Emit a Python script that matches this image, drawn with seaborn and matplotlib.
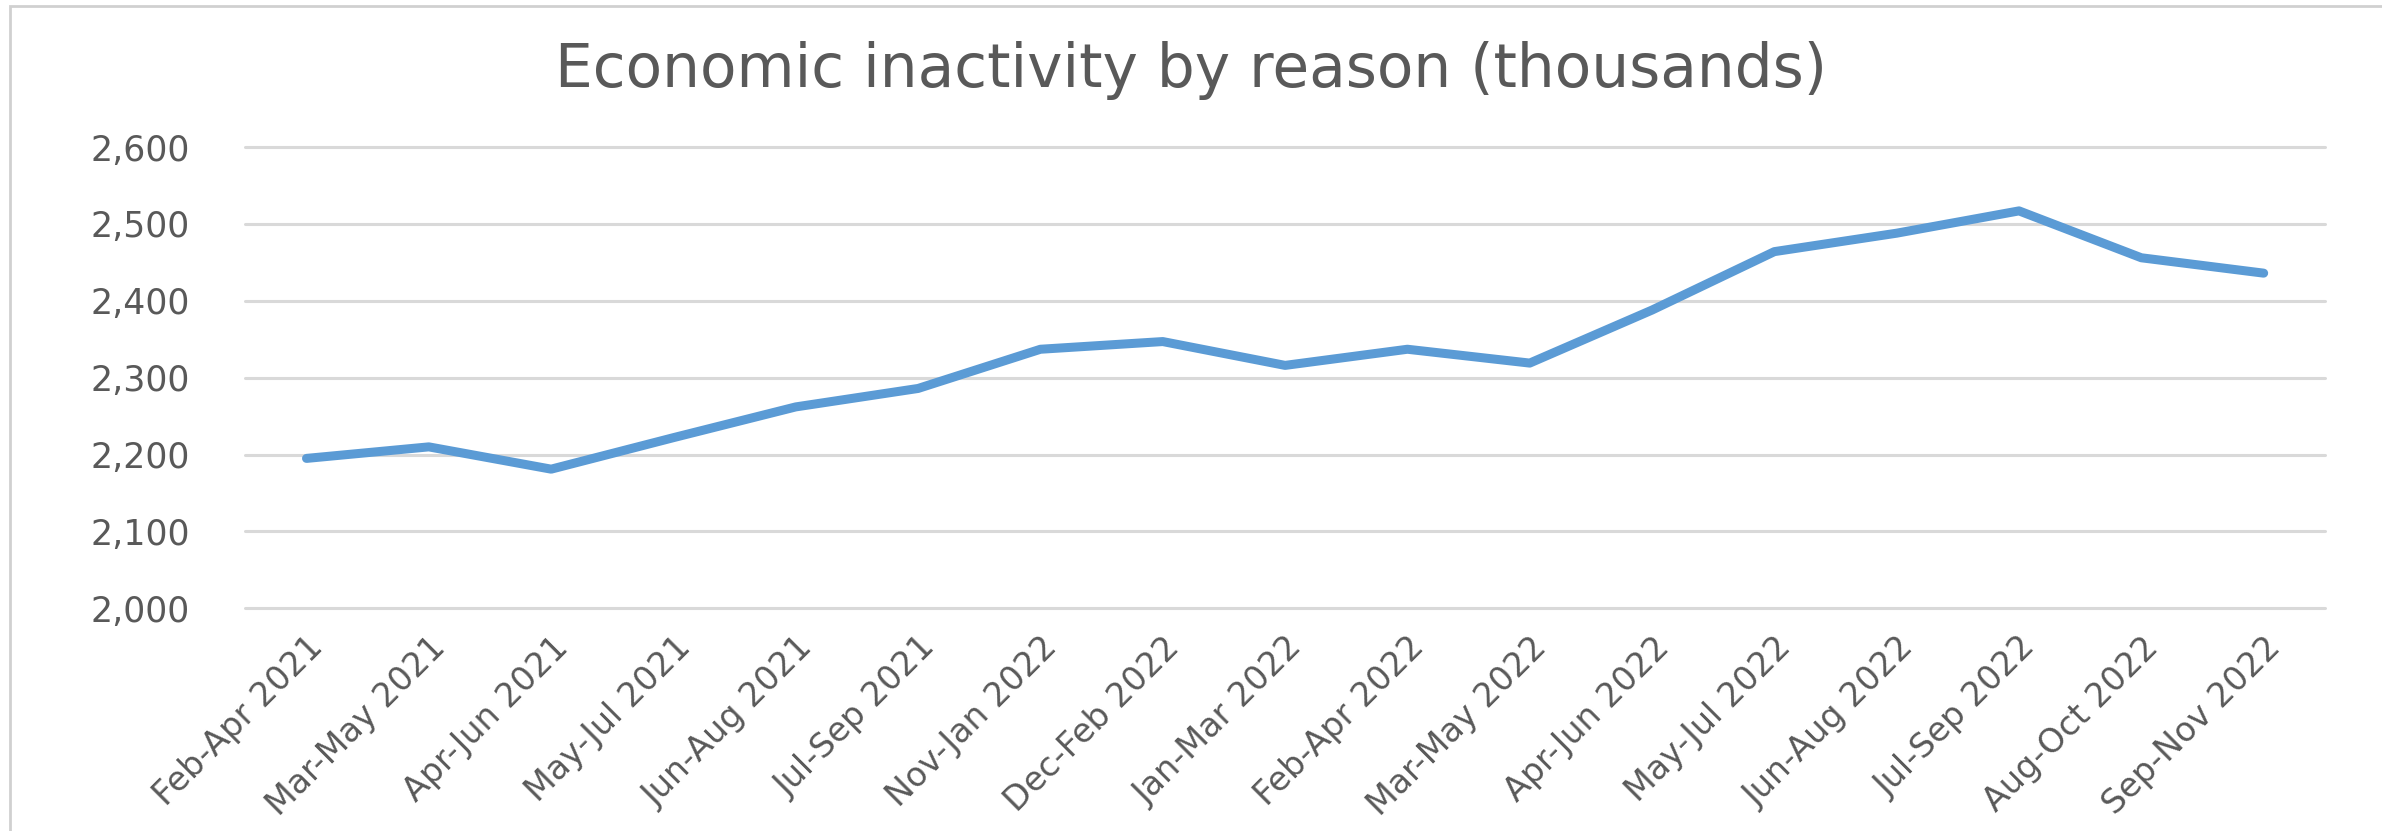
import matplotlib
matplotlib.use("Agg")
import matplotlib.pyplot as plt
import seaborn as sns
import pandas as pd
from matplotlib.patches import Rectangle
from matplotlib.ticker import FuncFormatter

# Data
periods = [
    "Feb-Apr 2021", "Mar-May 2021", "Apr-Jun 2021", "May-Jul 2021",
    "Jun-Aug 2021", "Jul-Sep 2021", "Nov-Jan 2022", "Dec-Feb 2022",
    "Jan-Mar 2022", "Feb-Apr 2022", "Mar-May 2022", "Apr-Jun 2022",
    "May-Jul 2022", "Jun-Aug 2022", "Jul-Sep 2022", "Aug-Oct 2022",
    "Sep-Nov 2022",
]
inactive = [
    2195, 2210, 2181, 2222, 2262, 2286, 2337, 2347, 2316,
    2337, 2319, 2388, 2464, 2488, 2517, 2456, 2436,
]
y_ticks = [2000, 2100, 2200, 2300, 2400, 2500, 2600]

df = pd.DataFrame({"period": periods, "value": inactive})
df["pos"] = range(len(df))

sns.set_theme(style="white")
plt.rcParams["font.family"] = ["DejaVu Sans"]

text_grey = "#595959"
grid_grey = "#d9d9d9"
line_blue = "#5b9bd5"

fig = plt.figure(figsize=(23.82, 8.31), dpi=100)
ax = fig.add_axes([0.103, 0.268, 0.873, 0.555])

sns.lineplot(data=df, x="pos", y="value", ax=ax, color=line_blue,
             linewidth=6.5, solid_capstyle="round", solid_joinstyle="round")

ax.set_xlim(-0.5, len(periods) - 0.5)
ax.set_ylim(2000, 2600)
ax.set_yticks(y_ticks)
ax.yaxis.set_major_formatter(FuncFormatter(lambda v, p: f"{int(v):,}"))
ax.set_xticks(df["pos"])
ax.set_xticklabels(periods, rotation=45, ha="right", rotation_mode="anchor")

ax.grid(axis="y", color=grid_grey, linewidth=2.2)
ax.set_axisbelow(True)
# keep the edge gridlines (2,000 / 2,600) at full width
for gl in ax.get_ygridlines():
    gl.set_clip_on(False)
for s in ax.spines.values():
    s.set_visible(False)

ax.tick_params(axis="y", labelsize=25, colors=text_grey, length=0, pad=40)
ax.tick_params(axis="x", labelsize=24, colors=text_grey, length=0, pad=16)
ax.set_xlabel("")
ax.set_ylabel("")

fig.text(0.5, 0.915, "Economic inactivity by reason (thousands)",
         ha="center", va="center", fontsize=43, color=text_grey)

# chart area border
fig.patches.append(Rectangle((0.004, -0.1), 1.2, 1.093, transform=fig.transFigure,
                             fill=False, edgecolor="#d0d0d0", linewidth=2))

fig.savefig("out.png", dpi=100, facecolor="white")
